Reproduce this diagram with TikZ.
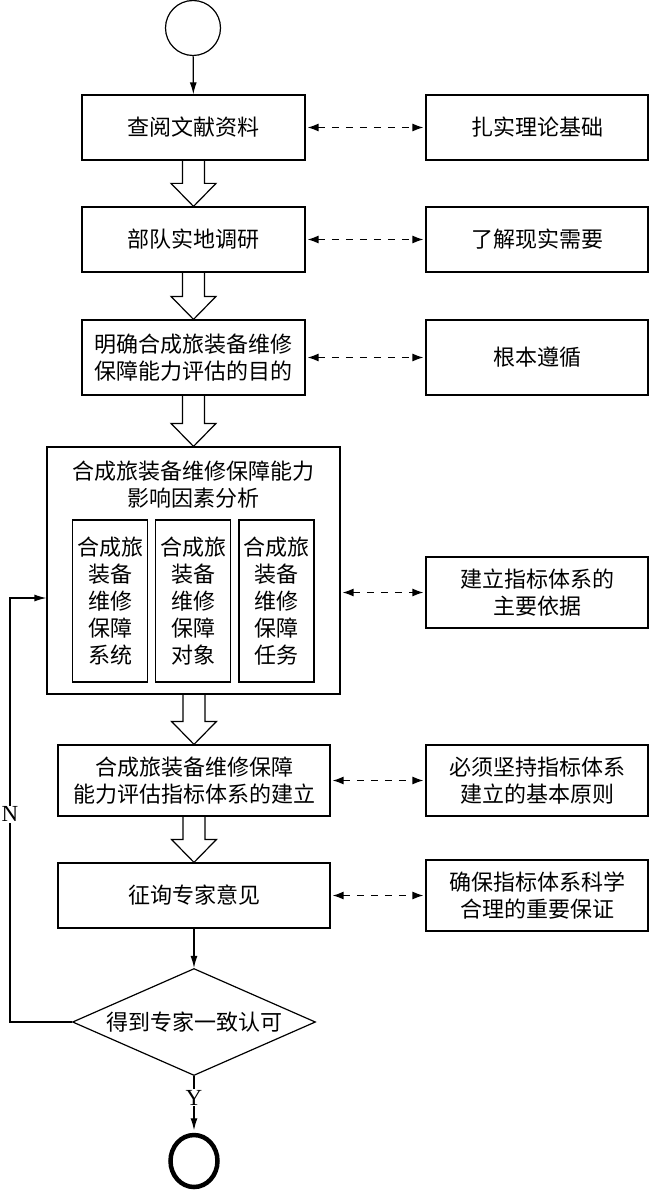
\documentclass[tikz,border=0pt]{standalone}
\usepackage{fontspec}
\setmainfont{Liberation Serif}
\newfontfamily\cjk{Noto Sans CJK SC}
\usetikzlibrary{arrows.meta,calc,shapes.geometric}
\newcommand\harrowft[2]{%
  \draw[hollowarrow] ($(#1 -| #2)+(-11,0)$) -- ($(#2)+(-11,-23)$) -- ($(#2)+(-22.5,-23)$) -- (#2)
    -- ($(#2)+(22.5,-23)$) -- ($(#2)+(11,-23)$) -- ($(#1 -| #2)+(11,0)$);}
\begin{document}
\begin{tikzpicture}[x=1pt,y=-1pt,
  box/.style={draw,line width=1.2pt,inner sep=0pt,align=center,font=\cjk\fontsize{22}{27}\selectfont},
  cjktext/.style={inner sep=0pt,align=center,font=\cjk\fontsize{22}{27}\selectfont},
  hollowarrow/.style={draw,line width=1.2pt,line join=miter},
  solidarrow/.style={draw,line width=1.2pt,-{Latex[length=12pt,width=7pt]}},
  dasharrow/.style={draw,line width=1.3pt,dash pattern=on 7pt off 7pt,
    {Latex[length=11pt,width=8pt]}-{Latex[length=11pt,width=8pt]},shorten <=2pt,shorten >=2pt},
  yn/.style={fill=white,inner sep=1pt,font=\fontsize{23}{26}\selectfont}
]
\useasboundingbox (0,0) rectangle (650,1190);

% start / end
\node[draw,circle,line width=1.2pt,minimum size=55pt,inner sep=0pt] (start) at (193,28) {};
\node[draw,ellipse,line width=4.5pt,minimum width=47pt,minimum height=52pt,inner sep=0pt] (end) at (194,1161) {};

% left column
\node[box,minimum width=223pt,minimum height=65pt] (b1) at (193.5,127.5) {查阅文献资料};
\node[box,minimum width=223pt,minimum height=65pt] (b2) at (193.5,239.5) {部队实地调研};
\node[box,minimum width=223pt,minimum height=75pt] (b3) at (193.5,357.5) {明确合成旅装备维修\\保障能力评估的目的};
\node[box,minimum width=293pt,minimum height=247pt] (big) at (193.5,570.5) {};
\node[cjktext] (bigtitle) at (193.5,485) {合成旅装备维修保障能力\\影响因素分析};
\node[box,minimum width=75pt,minimum height=162pt] (s1) at (110.25,601) {合成旅\\装备\\维修\\保障\\系统};
\node[box,minimum width=75pt,minimum height=162pt] (s2) at (193.25,601) {合成旅\\装备\\维修\\保障\\对象};
\node[box,minimum width=75pt,minimum height=162pt] (s3) at (276.5,601) {合成旅\\装备\\维修\\保障\\任务};
\node[box,minimum width=272pt,minimum height=71pt] (b5) at (194,780.5) {合成旅装备维修保障\\能力评估指标体系的建立};
\node[box,minimum width=272pt,minimum height=65pt] (b6) at (194,895.5) {征询专家意见};
\node[draw,diamond,shape aspect=2.27,line width=1.2pt,minimum width=243pt,minimum height=107pt,inner sep=0pt,
  font=\cjk\fontsize{22}{27}\selectfont] (dia) at (194,1022) {得到专家一致认可};

% right column
\node[box,minimum width=222pt,minimum height=65pt] (r1) at (537,127.5) {扎实理论基础};
\node[box,minimum width=222pt,minimum height=65pt] (r2) at (537,239.5) {了解现实需要};
\node[box,minimum width=222pt,minimum height=75pt] (r3) at (537,357.5) {根本遵循};
\node[box,minimum width=222pt,minimum height=71pt] (r4) at (537,592.5) {建立指标体系的\\主要依据};
\node[box,minimum width=222pt,minimum height=71pt] (r5) at (537,780.5) {必须坚持指标体系\\建立的基本原则};
\node[box,minimum width=222pt,minimum height=71pt] (r6) at (537,895.5) {确保指标体系科学\\合理的重要保证};

% solid arrows
\draw[solidarrow] (start) -- (b1);
\draw[solidarrow] (b6) -- (dia);
\draw[solidarrow,shorten >=2.5pt] (dia.south) -- node[yn,pos=0.38] (ylab) {Y} (end.north);

% feedback N
\coordinate (n1) at (10,1022);
\coordinate (n2) at (10,598);
\draw[solidarrow] (dia.west) -- (n1) -- node[yn,pos=0.49] (nlab) {N} (n2) -- ([yshift=-27.5pt]big.west);

% hollow arrows
\harrowft{b1.south}{b2.north}
\harrowft{b2.south}{b3.north}
\harrowft{b3.south}{big.north}
\harrowft{big.south}{b5.north}
\harrowft{b5.south}{b6.north}

% dashed arrows
\draw[dasharrow] (b1) -- (r1);
\draw[dasharrow] (b2) -- (r2);
\draw[dasharrow] (b3) -- (r3);
\draw[dasharrow] (big.east |- r4.west) -- (r4.west);
\draw[dasharrow] (b5) -- (r5);
\draw[dasharrow] (b6) -- (r6);
\end{tikzpicture}
\end{document}
